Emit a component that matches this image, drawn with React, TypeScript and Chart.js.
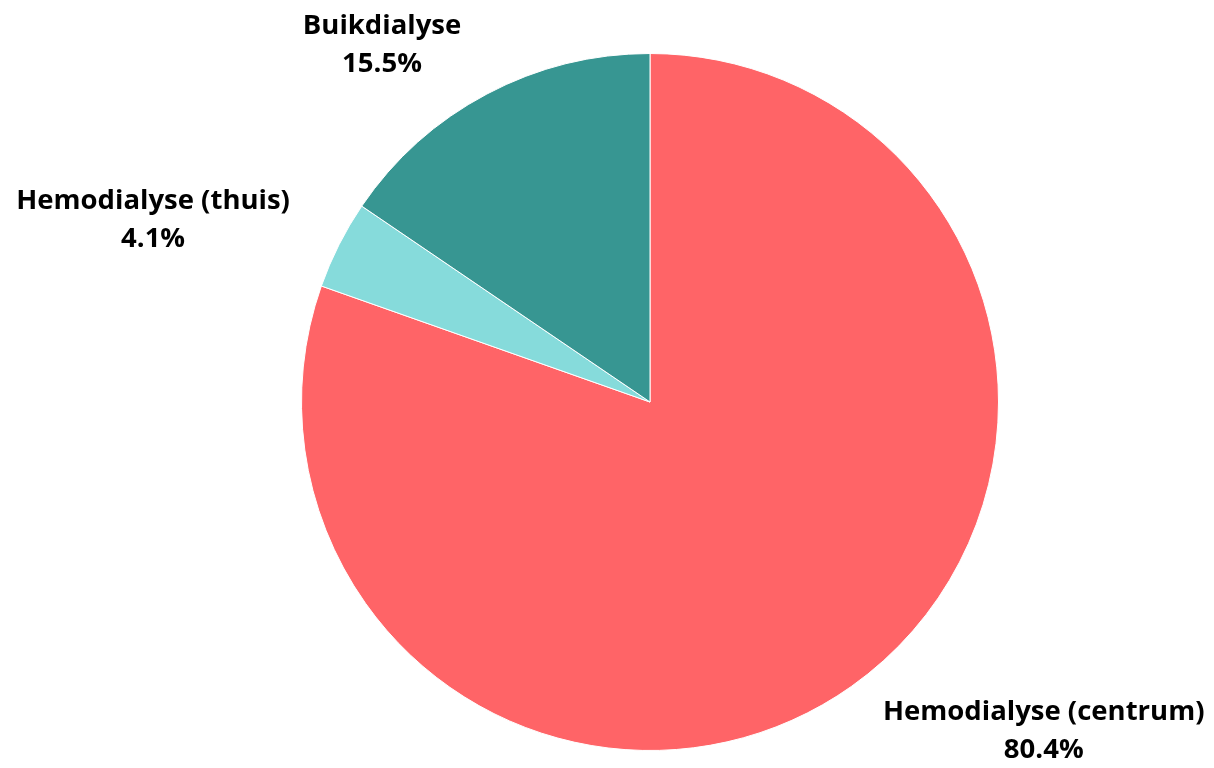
import React, { useEffect, useRef } from "react";
import { Chart, registerables } from "chart.js";

Chart.register(...registerables);

const categories = ["Hemodialyse (centrum)", "Hemodialyse (thuis)", "Buikdialyse"];
const values = [80.4, 4.1, 15.5];
const colors = ["#FF6467", "#86DBDB", "#379692"];

const labelPlugin = {
  id: "outerLabels",
  afterDatasetsDraw(chart: any) {
    const ctx = chart.ctx;
    const meta = chart.getDatasetMeta(0);
    ctx.save();
    ctx.font = "bold 27.5px 'Open Sans'";
    ctx.fillStyle = "#000000";
    ctx.textBaseline = "middle";
    meta.data.forEach((arc: any, i: number) => {
      const mid = (arc.startAngle + arc.endAngle) / 2;
      const r = arc.outerRadius + 55;
      const x = arc.x + Math.cos(mid) * r;
      const y = arc.y + Math.sin(mid) * r;
      const l1 = categories[i];
      const l2 = values[i].toFixed(1) + "%";
      const w = ctx.measureText(l1).width;
      const cx = Math.cos(mid) >= 0 ? x + w / 2 : x - w / 2;
      ctx.textAlign = "center";
      ctx.fillText(l1, cx, y - 19);
      ctx.fillText(l2, cx, y + 19);
    });
    ctx.restore();
  },
};

export default function App() {
  const ref = useRef<HTMLCanvasElement>(null);
  useEffect(() => {
    if (!ref.current) return;
    const chart = new Chart(ref.current, {
      type: "pie",
      data: {
        labels: categories,
        datasets: [
          {
            data: values,
            backgroundColor: colors,
            borderColor: "#ffffff",
            borderWidth: 1,
          },
        ],
      },
      options: {
        animation: false,
        responsive: true,
        maintainAspectRatio: false,
        layout: { padding: { left: 301, right: 215, top: 53, bottom: 17 } },
        plugins: { legend: { display: false }, tooltip: { enabled: false } },
      },
      plugins: [labelPlugin],
    });
    return () => chart.destroy();
  }, []);
  return (
    <div style={{ position: "fixed", left: 0, top: 0, width: 1214, height: 768, background: "#fff" }}>
      <canvas ref={ref} />
    </div>
  );
}
